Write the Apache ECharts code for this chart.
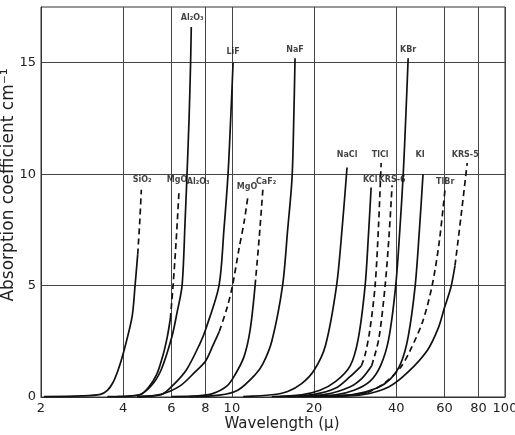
<!DOCTYPE html>
<html>
<head>
<meta charset="utf-8">
<script src="https://cdn.jsdelivr.net/npm/echarts@6/dist/echarts.min.js"></script>
<style>
  html, body { margin: 0; padding: 0; background: #fff; }
  #chartAbsorption { width: 515px; height: 435px; }
</style>
</head>
<body>
<div id="chartAbsorption"></div>
<script>
    // [wavelength (μ), absorption coefficient (cm-1)]
    const sio2Solid = [[2.05, 0.02], [2.8, 0.05], [3.3, 0.12], [3.5, 0.3], [3.67, 0.65], [3.83, 1.2], [4.0, 1.95], [4.31, 3.6], [4.42, 5.0], [4.52, 6.4]];
    const sio2Dash = [[4.52, 6.4], [4.6, 7.9], [4.66, 9.3]];
    const mgo1Solid = [[3.8, 0.02], [4.6, 0.1], [4.93, 0.4], [5.3, 1.0], [5.6, 1.9], [5.8, 2.7], [5.95, 3.5]];
    const mgo1Dash = [[5.95, 3.5], [6.09, 5.0], [6.25, 7.0], [6.4, 9.2]];
    const al2o3 = [[3.5, 0.02], [4.5, 0.08], [5.02, 0.45], [5.5, 1.2], [6.03, 2.7], [6.3, 3.8], [6.57, 5.0], [6.74, 7.9], [6.85, 10], [6.97, 12.5], [7.06, 15], [7.1, 16.6]];
    const lif = [[4.5, 0.02], [5.5, 0.1], [6.0, 0.45], [6.8, 1.2], [7.64, 2.4], [8.05, 3.1], [8.97, 5.0], [9.35, 7.5], [9.68, 10], [9.9, 12.5], [10.1, 15]];
    const mgo2Solid = [[4.5, 0.02], [5.5, 0.12], [6.46, 0.5], [7.3, 1.1], [8.0, 1.6], [8.55, 2.35], [9.0, 2.95]];
    const mgo2Dash = [[9.0, 2.95], [9.6, 4.0], [10.05, 5.0], [10.6, 6.6], [11.1, 7.9], [11.46, 9.05]];
    const caf2Solid = [[6.0, 0.02], [7.5, 0.05], [8.5, 0.15], [9.6, 0.5], [10.27, 1.0], [11.07, 1.8], [11.66, 3.0], [12.16, 5.0]];
    const caf2Dash = [[12.16, 5.0], [12.6, 7.2], [13.0, 9.4]];
    const naf = [[7.0, 0.02], [9.0, 0.08], [10.5, 0.3], [12.16, 1.0], [13.0, 1.5], [14.0, 2.5], [15.33, 5.0], [16.0, 7.5], [16.6, 9.8], [16.85, 12.5], [17.03, 15.2]];
    const nacl = [[11, 0.02], [14, 0.1], [16, 0.25], [18, 0.6], [20, 1.2], [22, 2.3], [24.17, 5.0], [25.3, 7.5], [26.4, 10.3]];
    const kcl = [[14, 0.02], [18, 0.1], [21, 0.3], [24, 0.7], [27.1, 1.4], [29, 2.6], [30.75, 5.0], [31.6, 7.2], [32.35, 9.4]];
    const tlclSolid = [[15, 0.02], [20, 0.12], [24, 0.4], [27, 0.9], [29.8, 1.4]];
    const tlclDash = [[29.8, 1.4], [30.75, 1.9], [32, 3.0], [33.45, 5.0], [34.4, 7.6], [35.2, 10.5]];
    const krs6Solid = [[16, 0.02], [22, 0.12], [27, 0.45], [30, 0.85], [32.5, 1.4]];
    const krs6Dash = [[32.5, 1.4], [34.5, 2.6], [36.4, 5.0], [37.6, 7.2], [38.6, 9.5]];
    const kbr = [[18, 0.02], [24, 0.1], [28, 0.3], [32, 0.7], [35, 1.4], [37.5, 2.6], [39.8, 5.0], [41.2, 7.5], [42.4, 10], [43.3, 12.5], [44.2, 15.2]];
    const ki = [[20, 0.02], [28, 0.12], [34, 0.4], [38, 0.8], [41.5, 1.5], [44.2, 2.7], [46.9, 5.0], [48.6, 7.5], [50.1, 10]];
    const tlbrSolid = [[20, 0.02], [27, 0.08], [31.4, 0.2]];
    const tlbrDash = [[31.4, 0.2], [36, 0.6], [41.3, 1.3], [45, 2.1], [50, 3.4], [54.1, 5.0], [57.5, 7.0], [60.4, 9.4]];
    const krs5Solid = [[22, 0.02], [30, 0.1], [37.5, 0.45], [44, 1.1], [52, 2.1], [57, 3.1], [60, 4.0], [63.3, 4.9], [65.6, 5.9]];
    const krs5Dash = [[65.6, 5.9], [69, 8.1], [72.7, 10.5]];

    // curve names, placed in data coords
    const labelNames = ['Al₂O₃', 'LiF', 'NaF', 'KBr', 'SiO₂', 'MgO', 'Al₂O₃', 'MgO', 'CaF₂', 'NaCl', 'TlCl', 'KI', 'KRS-5', 'KCl', 'KRS-6', 'TlBr'];
    const labelX = [7.15, 10.1, 17.03, 44.2, 4.69, 6.3, 7.52, 11.36, 13.34, 26.4, 34.9, 48.9, 71.5, 32.1, 38.6, 60.4];
    const labelY = [17.0, 15.47, 15.56, 15.56, 9.73, 9.73, 9.64, 9.42, 9.64, 10.85, 10.85, 10.85, 10.85, 9.73, 9.73, 9.64];

    const xTicks = [2, 4, 6, 8, 10, 20, 40, 60, 80, 100];
    const yTicks = [0, 5, 10, 15];

    const solidCurves = [sio2Solid, mgo1Solid, al2o3, lif, mgo2Solid, caf2Solid, naf, nacl, kcl, tlclSolid, krs6Solid, kbr, ki, tlbrSolid, krs5Solid];
    const dashCurves = [sio2Dash, mgo1Dash, mgo2Dash, caf2Dash, tlclDash, krs6Dash, tlbrDash, krs5Dash];

    function curve(data, dashed) {
        return {
            type: 'line',
            data: data,
            symbol: 'none',
            smooth: 0.3,
            silent: true,
            z: 3,
            lineStyle: {
                color: '#111',
                width: 1.7,
                type: dashed ? [6, 4] : 'solid'
            }
        };
    }

    const series = [];
    solidCurves.forEach(d => series.push(curve(d, false)));
    dashCurves.forEach(d => series.push(curve(d, true)));
    series.push({
        type: 'scatter',
        symbolSize: 0,
        silent: true,
        z: 5,
        data: labelNames.map((n, i) => ({ name: n, value: [labelX[i], labelY[i]] })),
        label: {
            show: true,
            position: 'inside',
            formatter: '{b}',
            fontFamily: 'DejaVu Sans',
            fontSize: 8,
            fontWeight: 'bold',
            color: '#111'
        }
    });

    const option = {
        animation: false,
        grid: {
            left: 41,
            right: 10,
            top: 7,
            bottom: 38,
            outerBoundsMode: 'none',
            containLabel: false,
            show: true,
            borderColor: '#333',
            borderWidth: 1
        },
        xAxis: {
            type: 'log',
            logBase: 10,
            min: 2,
            max: 100,
            name: 'Wavelength (μ)',
            nameLocation: 'middle',
            nameMoveOverlap: false,
            nameGap: 20,
            nameTextStyle: {
                fontFamily: 'DejaVu Sans',
                fontSize: 15,
                color: '#222',
                padding: [0, 0, 0, 18]
            },
            axisLine: { lineStyle: { color: '#333' } },
            axisTick: { show: false, customValues: xTicks },
            axisLabel: {
                customValues: xTicks,
                margin: 5,
                fontFamily: 'DejaVu Sans',
                fontSize: 13,
                color: '#222'
            },
            splitLine: { show: true, lineStyle: { color: '#444', width: 1 } }
        },
        yAxis: {
            type: 'value',
            min: 0,
            max: 17.5,
            name: 'Absorption coefficient cm⁻¹',
            nameLocation: 'middle',
            nameMoveOverlap: false,
            nameGap: 24,
            nameTextStyle: {
                fontFamily: 'DejaVu Sans',
                fontSize: 17,
                color: '#222',
                padding: [0, 0, 0, 34]
            },
            axisLine: { show: true, lineStyle: { color: '#333' } },
            axisTick: { show: false, customValues: yTicks },
            axisLabel: {
                customValues: yTicks,
                margin: 5,
                fontFamily: 'DejaVu Sans',
                fontSize: 13,
                color: '#222'
            },
            splitLine: { show: true, lineStyle: { color: '#444', width: 1 } }
        },
        series: series
    };

    const myChart = echarts.init(document.getElementById('chartAbsorption'));
    myChart.setOption(option);
</script>
</body>
</html>
